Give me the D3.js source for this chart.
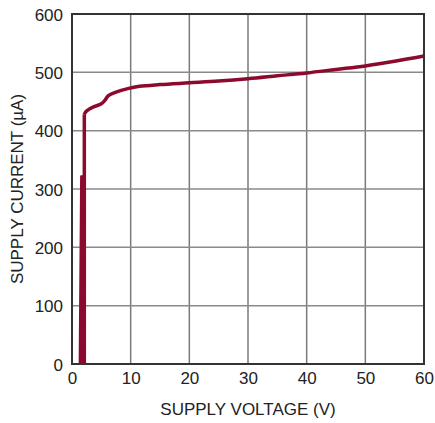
<!DOCTYPE html>
<html>
<head>
<style>
 body{margin:0;background:#fff;}
 text{font-family:"Liberation Sans Narrow","Liberation Sans",sans-serif;fill:#222;}
</style>
</head>
<body>
<div id="chart"></div>
<script src="https://d3js.org/d3.v7.min.js"></script>
<script>
// supply voltage (V) vs supply current (uA)
const mainVolts = [2.1, 2.1, 2.4, 3.5, 5.0, 5.6, 6.2, 7.5, 9.5, 11.5, 15, 20, 25, 30, 35, 40, 45, 50, 55, 60];
const mainAmps  = [0, 428, 433, 440, 446, 452, 460, 466, 472, 476, 479, 482, 485, 489, 494, 499, 505, 511, 519, 528];
const spikeVolts = [1.3, 1.55, 1.85, 1.95];
const spikeAmps  = [0, 322, 322, 0];
const xTicks = [0, 10, 20, 30, 40, 50, 60];
const yTicks = [0, 100, 200, 300, 400, 500, 600];

const width = 435, height = 423;
const margin = {top: 14, right: 11, bottom: 59, left: 72};

const svg = d3.select('#chart').append('svg')
  .attr('width', width).attr('height', height);

const x = d3.scaleLinear().domain([0, 60]).range([margin.left, width - margin.right]);
const y = d3.scaleLinear().domain([0, 600]).range([height - margin.bottom, margin.top]);

// grid
svg.append('g').selectAll('line').data(xTicks.slice(1, -1)).join('line')
  .attr('x1', d => x(d)).attr('x2', d => x(d))
  .attr('y1', y(0)).attr('y2', y(600))
  .attr('stroke', '#7a7a7a').attr('stroke-width', 1.5);
svg.append('g').selectAll('line').data(yTicks.slice(1, -1)).join('line')
  .attr('x1', x(0)).attr('x2', x(60))
  .attr('y1', d => y(d)).attr('y2', d => y(d))
  .attr('stroke', '#8a8a8a').attr('stroke-width', 1.5);

// frame
svg.append('rect')
  .attr('x', x(0)).attr('y', y(600))
  .attr('width', x(60) - x(0)).attr('height', y(0) - y(600))
  .attr('fill', 'none').attr('stroke', '#333').attr('stroke-width', 2);

// axes labels via d3 axes
const xAxis = svg.append('g')
  .attr('transform', `translate(0,${y(0)})`)
  .call(d3.axisBottom(x).tickValues(xTicks).tickSize(0).tickPadding(8));
const yAxis = svg.append('g')
  .attr('transform', `translate(${x(0)},0)`)
  .call(d3.axisLeft(y).tickValues(yTicks).tickSize(0).tickPadding(9));
[xAxis, yAxis].forEach(g => {
  g.select('.domain').remove();
  g.selectAll('text').attr('font-size', 17).attr('fill', '#222');
});
yAxis.selectAll('text').attr('dy', '0.36em');

svg.append('text')
  .attr('x', (x(0) + x(60)) / 2).attr('y', 415)
  .attr('text-anchor', 'middle').attr('font-size', 17)
  .text('SUPPLY VOLTAGE (V)');
svg.append('text')
  .attr('transform', `translate(23,${(y(0) + y(600)) / 2}) rotate(-90)`)
  .attr('text-anchor', 'middle').attr('font-size', 17)
  .text('SUPPLY CURRENT (µA)');

// curves
const line = d3.line().x(d => x(d[0])).y(d => y(d[1])).curve(d3.curveMonotoneX);
const lineLin = d3.line().x(d => x(d[0])).y(d => y(d[1]));
svg.append('path')
  .datum(spikeVolts.map((v, i) => [v, spikeAmps[i]]))
  .attr('d', lineLin).attr('fill', '#8c0a2e').attr('stroke', '#8c0a2e')
  .attr('stroke-width', 2).attr('stroke-linejoin', 'round');
const mainPts = mainVolts.map((v, i) => [v, mainAmps[i]]);
svg.append('path')
  .datum(mainPts.slice(0, 2))
  .attr('d', lineLin).attr('fill', 'none').attr('stroke', '#8c0a2e')
  .attr('stroke-width', 3.5);
svg.append('path')
  .datum(mainPts.slice(1))
  .attr('d', d3.line().x(d => x(d[0])).y(d => y(d[1])).curve(d3.curveCatmullRom))
  .attr('fill', 'none').attr('stroke', '#8c0a2e')
  .attr('stroke-width', 3.5).attr('stroke-linejoin', 'round');
</script>
</body>
</html>
